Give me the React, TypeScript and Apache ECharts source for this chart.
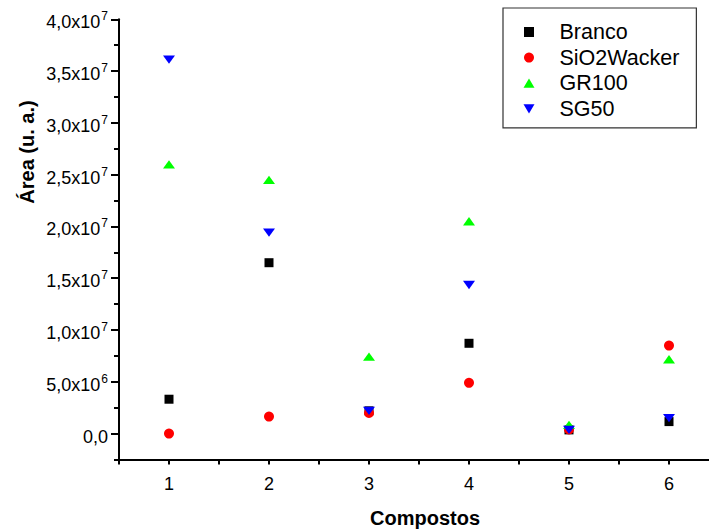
import React, { useEffect, useRef } from "react";
import * as echarts from "echarts";

const compostos = [1, 2, 3, 4, 5, 6];
const branco = [3.32e6, 16.5e6, 2.2e6, 8.72e6, 0.36e6, 1.16e6];
const sio2Wacker = [0, 1.64e6, 2.0e6, 4.9e6, 0.4e6, 8.5e6];
const gr100 = [26.0e6, 24.5e6, 7.43e6, 20.5e6, 0.85e6, 7.18e6];
const sg50 = [36.1e6, 19.4e6, 2.2e6, 14.35e6, 0.36e6, 1.5e6];
const yMajorTicks = [0, 5e6, 1e7, 1.5e7, 2e7, 2.5e7, 3e7, 3.5e7, 4e7];
const seriesNames = ["Branco", "SiO2Wacker", "GR100", "SG50"];

const FONT = "'Liberation Sans', Arial, Helvetica, sans-serif";
const DOWN_TRI = "path://M0,0L12,0L6,10Z";
const UP_TRI = "path://M6,0L12,10L0,10Z";
const SQUARE = "path://M0,0L10,0L10,10L0,10Z";

function fmtY(v: number): string {
  if (v === 0) return "{a|0,0}";
  const exp = Math.floor(Math.log10(Math.abs(v)) + 1e-9);
  const mant = v / Math.pow(10, exp);
  return "{a|" + mant.toFixed(1).replace(".", ",") + "x10}{sup|" + exp + "}";
}

export default function App() {
  const ref = useRef<HTMLDivElement>(null);
  useEffect(() => {
    if (!ref.current) return;
    const chart = echarts.init(ref.current, undefined, { renderer: "svg" });
    const mk = (name: string, data: number[], symbol: string, size: any, color: string) => ({
      name,
      type: "scatter",
      data: compostos.map((c, i) => [c, data[i]]),
      symbol,
      symbolSize: size,
      symbolKeepAspect: true,
      itemStyle: { color, opacity: 1 },
      emphasis: { disabled: true },
      xAxisIndex: 0,
      yAxisIndex: 0,
    });
    const icons = [SQUARE, "circle", UP_TRI, DOWN_TRI];
    chart.setOption({
      animation: false,
      backgroundColor: "#ffffff",
      textStyle: { fontFamily: FONT },
      grid: {
        left: 119,
        top: 19.3,
        width: 600,
        height: 440.2,
        containLabel: false,
        outerBoundsMode: "none",
      },
      legend: {
        orient: "vertical",
        left: 503,
        top: 8,
        data: seriesNames.map((n, i) => ({ name: n, icon: icons[i] })),
        padding: [13, 17, 8, 20.5],
        itemWidth: 11,
        itemHeight: 10,
        itemGap: 3.6,
        symbolKeepAspect: true,
        borderColor: "#333333",
        borderWidth: 1.2,
        textStyle: {
          fontFamily: FONT,
          fontSize: 21.5,
          color: "#000",
          lineHeight: 21,
          padding: [0, 0, 0, 20],
        },
      },
      xAxis: {
        type: "value",
        min: 0.5,
        max: 6.5,
        interval: 0.5,
        axisLine: { show: true, onZero: false, lineStyle: { color: "#000", width: 2 } },
        axisTick: { show: true, length: 5, lineStyle: { color: "#000", width: 2 } },
        minorTick: { show: false },
        splitLine: { show: false },
        axisLabel: {
          show: true,
          margin: 15,
          fontSize: 18,
          color: "#000",
          fontFamily: FONT,
          formatter: (v: number) => (Math.abs(v - Math.round(v)) < 1e-6 && v >= 1 ? String(Math.round(v)) : ""),
        },
        name: "Compostos",
        nameLocation: "middle",
        nameGap: 48,
        nameTextStyle: { fontSize: 20, fontWeight: "bold", color: "#000", fontFamily: FONT, padding: [0, 0, 0, 12] },
      },
      yAxis: [
        {
          type: "value",
          min: -2.5e6,
          max: 4e7,
          position: "left",
          axisLine: { show: true, onZero: false, lineStyle: { color: "#000", width: 2 } },
          axisTick: { show: true, length: 8, customValues: yMajorTicks, lineStyle: { color: "#000", width: 2 } },
          splitLine: { show: false },
          axisLabel: {
            show: true,
            margin: 11,
            customValues: yMajorTicks,
            formatter: (v: number) => fmtY(v),
            rich: {
              a: { fontSize: 18, color: "#000", fontFamily: FONT, padding: [6, 0, 0, 0] },
              sup: { fontSize: 12, color: "#000", fontFamily: FONT, padding: [0, 0, 6, 1] },
            },
          },
        },
        {
          type: "value",
          min: -2.5e6,
          max: 4e7,
          interval: 2.5e6,
          position: "left",
          axisLine: { show: false },
          axisTick: { show: true, length: 5, lineStyle: { color: "#000", width: 2 } },
          axisLabel: { show: false },
          splitLine: { show: false },
        },
      ],
      graphic: [
        {
          type: "text",
          x: 27,
          y: 152,
          rotation: Math.PI / 2,
          style: {
            text: "Área (u. a.)",
            font: "bold 20px " + FONT,
            fill: "#000",
            textAlign: "center",
            textVerticalAlign: "middle",
          },
        },
      ],
      series: [
        mk("Branco", branco, SQUARE, 9, "#000000"),
        mk("SiO2Wacker", sio2Wacker, "circle", 10, "#ff0000"),
        mk("GR100", gr100, UP_TRI, [12, 10], "#00ff00"),
        mk("SG50", sg50, DOWN_TRI, [12, 10], "#0000ff"),
      ],
    });
    return () => chart.dispose();
  }, []);
  return (
    <div
      ref={ref}
      style={{ position: "fixed", left: 0, top: 0, width: 709, height: 529, background: "#fff" }}
    />
  );
}
